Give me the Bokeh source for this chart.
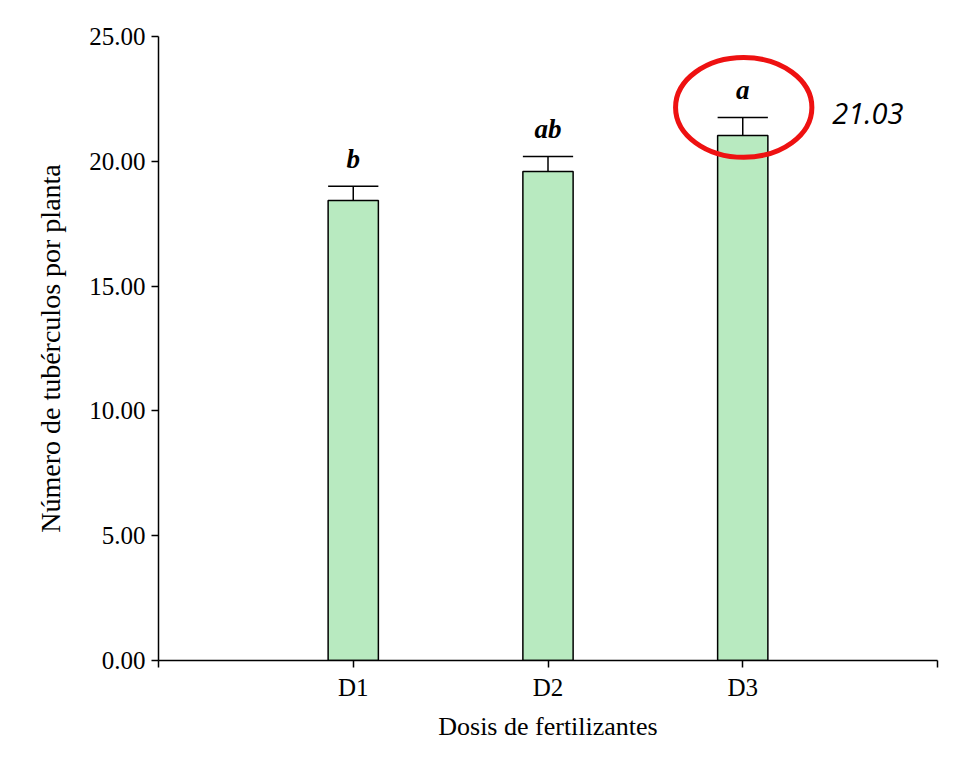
from bokeh.plotting import figure
from bokeh.models import FixedTicker, PrintfTickFormatter, ColumnDataSource, Label
from bokeh.core.properties import value
from bokeh.embed import file_html
from bokeh.resources import INLINE

categories = ["D1", "D2", "D3"]
means = [18.43, 19.59, 21.03]
errors = [0.57, 0.60, 0.72]
letters = ["b", "ab", "a"]
y_ticks = [0, 5, 10, 15, 20, 25]
highlight_text = "21.03"

xs = [i + 1 for i in range(len(categories))]
tops = [m + e for m, e in zip(means, errors)]

p = figure(width=950, height=743, x_range=(0, 4), y_range=(0, 25),
           output_backend="svg", toolbar_location=None,
           min_border_left=158, min_border_right=13, min_border_top=36, min_border_bottom=83)
p.outline_line_color = None
p.grid.visible = False
p.background_fill_color = "white"
p.border_fill_color = "white"

src = ColumnDataSource(dict(x=xs, m=means, top=tops, lab=letters,
                            ly=[t + 0.5 for t in tops]))
p.vbar(x="x", top="m", bottom=0, width=0.258, source=src,
       fill_color="#b8eac0", line_color="black", line_width=1.5)
p.segment(x0="x", y0="m", x1="x", y1="top", source=src, line_color="black", line_width=1.5)
p.segment(x0=[x - 0.129 for x in xs], y0=tops, x1=[x + 0.129 for x in xs], y1=tops,
          line_color="black", line_width=1.5)
p.text(x="x", y="ly", text="lab", source=src, text_align="center", text_baseline="bottom",
       text_font=value("Liberation Serif"), text_font_style="bold italic",
       text_font_size="27px", text_color="black")

# highlight ellipse
p.ellipse(x=[3.005], y=[22.16], width=0.70, height=4.0, fill_color=None,
          line_color="#ee1111", line_width=5)
p.add_layout(Label(x=3.46, y=21.9, text=highlight_text, text_font="Open Sans",
                   text_font_style="italic", text_font_size="29px", text_color="black",
                   text_align="left", text_baseline="middle"))

ser = "Liberation Serif"
p.yaxis.ticker = FixedTicker(ticks=y_ticks)
p.yaxis.formatter = PrintfTickFormatter(format="%.2f")
p.xaxis.ticker = FixedTicker(ticks=[0] + xs + [4])
p.xaxis.major_label_overrides = {0: "", 4: "", **{x: c for x, c in zip(xs, categories)}}
for ax in (p.xaxis, p.yaxis):
    ax.axis_line_color = "black"
    ax.axis_line_width = 1.5
    ax.major_tick_line_color = "black"
    ax.major_tick_line_width = 1.5
    ax.major_tick_in = 0
    ax.major_tick_out = 7
    ax.minor_tick_line_color = None
    ax.major_label_text_font = ser
    ax.major_label_text_font_size = "25px"
    ax.major_label_text_color = "black"
    ax.axis_label_text_font = ser
    ax.axis_label_text_font_size = "26px"
    ax.axis_label_text_font_style = "normal"
    ax.axis_label_text_color = "black"
p.yaxis.axis_label_text_font_size = "28px"
p.yaxis.axis_label = "Número de tubérculos por planta"
p.xaxis.axis_label = "Dosis de fertilizantes"
p.yaxis.major_label_standoff = 6
p.xaxis.major_label_standoff = 6
p.yaxis.axis_label_standoff = 20
p.xaxis.axis_label_standoff = 8

open("out.html", "w").write(file_html(p, INLINE))
